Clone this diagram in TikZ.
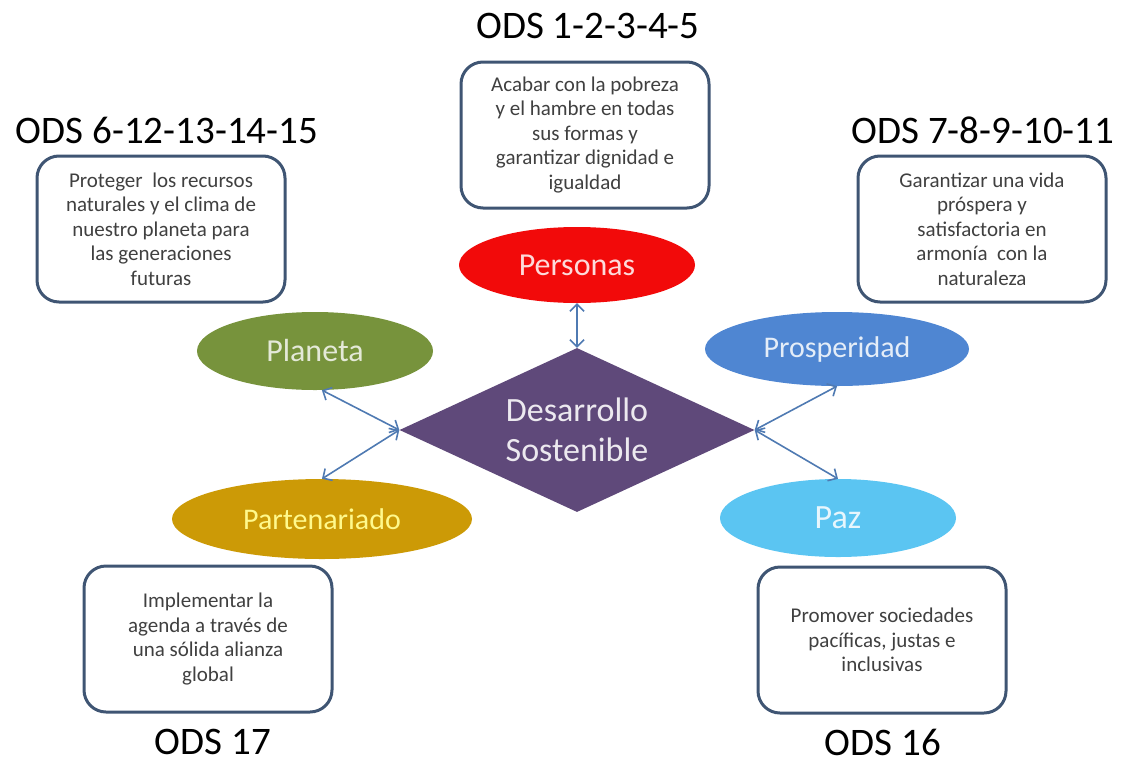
\documentclass[tikz,border=0pt]{standalone}
\usepackage{fontspec}
\setmainfont{Carlito}
\usetikzlibrary{shapes.geometric,arrows.meta}
\definecolor{cPer}{HTML}{F20A0A}
\definecolor{cPla}{HTML}{77933C}
\definecolor{cPro}{HTML}{4F86D2}
\definecolor{cPar}{HTML}{CC9A06}
\definecolor{cPaz}{HTML}{5BC5F2}
\definecolor{cDia}{HTML}{5F497A}
\definecolor{cBox}{HTML}{3F5573}
\definecolor{cArr}{HTML}{4F7AB2}
\definecolor{cTxt}{HTML}{404040}
\tikzset{
  ovalnode/.style={ellipse, inner sep=0pt, draw=none},
  textbox/.style={draw=cBox, line width=3pt, rounded corners=22pt, fill=white,
    minimum width=248pt, minimum height=146pt, inner sep=0pt,
    align=center, text=cTxt, font=\fontsize{21}{24.5}\selectfont},
  odstitle/.style={font=\fontsize{39}{44}\selectfont, text=black, inner sep=0pt},
  link/.style={draw=cArr, line width=1.6pt,
    {Straight Barb[length=7pt,width=14pt,line width=1.6pt]}-{Straight Barb[length=7pt,width=14pt,line width=1.6pt]}}
}
\begin{document}
\begin{tikzpicture}[x=1pt,y=-1pt]
\useasboundingbox (0,0) rectangle (1123,763);
% titles
\node[odstitle] (t1) at (588,26) {ODS 1-2-3-4-5};
\node[odstitle] (t2) at (167,130) {ODS 6-12-13-14-15};
\node[odstitle] (t3) at (983,130) {ODS 7-8-9-10-11};
\node[odstitle] (t4) at (213,742) {ODS 17};
\node[odstitle] (t5) at (883,742) {ODS 16};
% boxes
\node[textbox] (bPer) at (585,135) {Acabar con la pobreza\\y el hambre en todas\\sus formas y\\garantizar dignidad e\\igualdad};
\node[textbox] (bPla) at (161,229) {Proteger\ \ los recursos\\naturales y el clima de\\nuestro planeta para\\las generaciones\\futuras};
\node[textbox] (bPro) at (982,229) {Garantizar una vida\\próspera y\\satisfactoria en\\armonía\ \ con la\\naturaleza};
\node[textbox] (bPar) at (208,639) {Implementar la\\agenda a través de\\una sólida alianza\\global};
\node[textbox] (bPaz) at (882,640) {Promover sociedades\\pacíficas, justas e\\inclusivas};
% ellipses
\node[ovalnode, fill=cPer, minimum width=236pt, minimum height=76pt, text=white!85!cPer, font=\fontsize{32}{36}\selectfont] (per) at (577,265) {Personas};
\node[ovalnode, fill=cPla, minimum width=236pt, minimum height=78pt, text=white!80!cPla, font=\fontsize{32}{36}\selectfont] (pla) at (315,351) {Planeta};
\node[ovalnode, fill=cPro, minimum width=264pt, minimum height=74pt, text=white!85!cPro, font=\fontsize{30}{36}\selectfont] (pro) at (837,349) {Prosperidad};
\node[ovalnode, fill=cPar, minimum width=300pt, minimum height=80pt, text=yellow!45!white, font=\fontsize{30}{36}\selectfont] (par) at (322,519) {Partenariado};
\node[ovalnode, fill=cPaz, minimum width=236pt, minimum height=78pt, text=white!85!cPaz, font=\fontsize{34}{36}\selectfont] (paz) at (838,518) {Paz};
% diamond
\node[diamond, fill=cDia, inner sep=0pt, minimum width=355pt, minimum height=164pt] (dia) at (577,430) {};
\node[align=center, inner sep=0pt, text=white!88!cDia, font=\fontsize{34}{40}\selectfont] (diat) at (dia.center) {Desarrollo\\Sostenible};
% connectors
\draw[link] (per.south) -- (dia.north);
\draw[link] (pla.-80) -- (dia.west);
\draw[link] (par.north) -- (dia.west);
\draw[link] (pro.south) -- (dia.east);
\draw[link] (paz.north) -- (dia.east);
\end{tikzpicture}
\end{document}
